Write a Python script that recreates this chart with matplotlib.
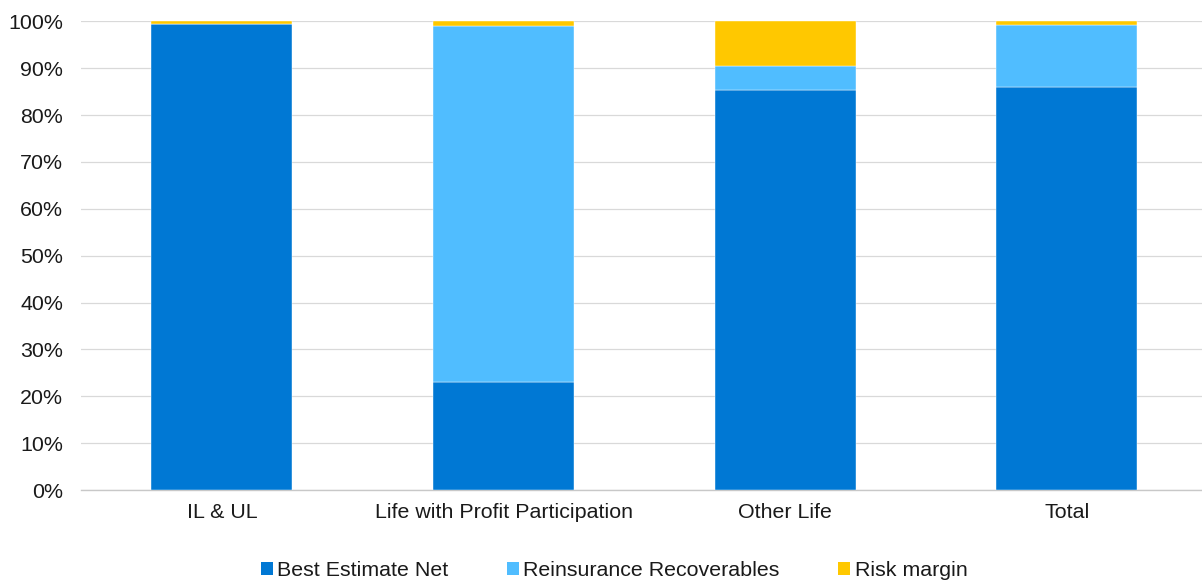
import matplotlib.pyplot as plt
from matplotlib.patches import Patch
from matplotlib.ticker import PercentFormatter

plt.rcParams["font.family"] = ["Liberation Sans", "DejaVu Sans"]

categories = ["IL & UL", "Life with Profit Participation", "Other Life", "Total"]
best_estimate_net = [99.4, 23.1, 85.4, 86.0]
reinsurance_recoverables = [0.0, 75.9, 5.0, 13.2]
risk_margin = [0.6, 1.0, 9.6, 0.8]

series_names = ["Best Estimate Net", "Reinsurance Recoverables", "Risk margin"]
colors = ["#0078D4", "#50BDFF", "#FFC800"]

fig = plt.figure(figsize=(12.02, 5.8), dpi=100)
ax = fig.add_axes([81 / 1202, 90 / 580, 1126.7 / 1202, 468.7 / 580])

x = range(len(categories))
bottom = [0.0] * len(categories)
for values, color in zip([best_estimate_net, reinsurance_recoverables, risk_margin], colors):
    ax.bar(x, values, width=0.5, bottom=bottom, color=color,
           edgecolor="white", linewidth=0.3, zorder=3)
    bottom = [b + v for b, v in zip(bottom, values)]

ax.set_xlim(-0.5, len(categories) - 0.5)
ax.set_ylim(0, 100)
ax.set_yticks(range(0, 101, 10))
ax.yaxis.set_major_formatter(PercentFormatter(decimals=0))
ax.set_xticks(list(x))
ax.set_xticklabels(categories)

ax.grid(axis="y", color="#D9D9D9", linewidth=0.9, zorder=0)
ax.set_axisbelow(True)
for side in ["top", "right", "left"]:
    ax.spines[side].set_visible(False)
ax.spines["bottom"].set_color("#C8C8C8")
ax.spines["bottom"].set_linewidth(1.0)
ax.tick_params(axis="y", length=0, pad=13, labelsize=15.4, labelcolor="#1a1a1a")
ax.tick_params(axis="x", length=0, pad=9, labelsize=15.4, labelcolor="#1a1a1a")

handles = [Patch(facecolor=c, edgecolor="none") for c in colors]
fig.legend(handles, series_names, loc="center", bbox_to_anchor=(0.511, 0.016),
           ncol=3, frameon=False, fontsize=15.4, handlelength=0.55, handleheight=0.55,
           handletextpad=0.2, columnspacing=2.75, labelcolor="#1a1a1a")

fig.savefig("out.png", dpi=100)
